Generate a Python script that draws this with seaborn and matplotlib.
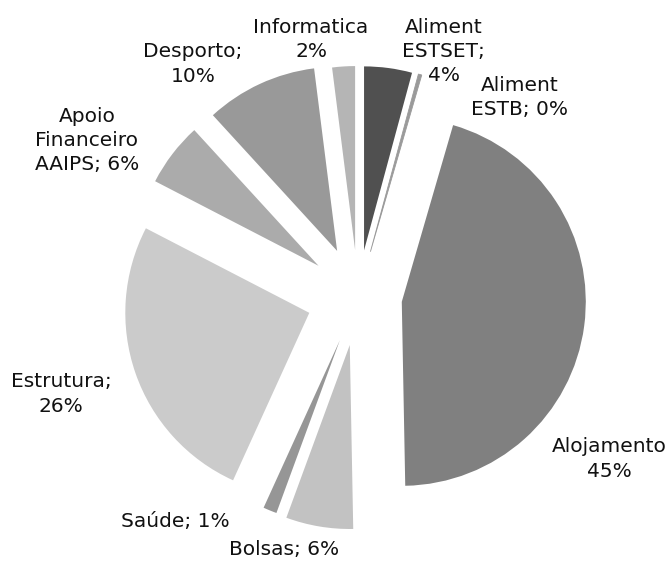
import matplotlib
matplotlib.use("Agg")
import matplotlib.pyplot as plt
import seaborn as sns

sns.set_theme(style="white")
plt.rcParams["font.family"] = ["DejaVu Sans"]

# Budget shares per category (percent), clockwise from 12 o'clock
categories = ["Aliment ESTSET", "Aliment ESTB", "Alojamento", "Bolsas", "Saúde",
              "Estrutura", "Apoio Financeiro AAIPS", "Desporto", "Informatica"]
values = [4.2, 0.3, 45.2, 5.9, 1.2, 25.8, 5.6, 9.8, 2.0]
label_templates = ["Aliment\nESTSET;\n{p}%", "Aliment\nESTB; {p}%", "Alojamento\n{p}%",
                   "Bolsas; {p}%", "Saúde; {p}%", "Estrutura;\n{p}%",
                   "Apoio\nFinanceiro\nAAIPS; {p}%", "Desporto;\n{p}%", "Informatica\n{p}%"]

# Styling
greys = ["#505050", "#9a9a9a", "#808080", "#c2c2c2", "#969696",
         "#cbcbcb", "#ababab", "#999999", "#b5b5b5"]
explode = [0.25, 0.25, 0.24, 0.27, 0.26, 0.28, 0.27, 0.27, 0.25]
label_pos = [(0.467, 1.33), (0.88, 1.08), (1.364, -0.886), (-0.402, -1.38),
             (-0.995, -1.228), (-1.614, -0.533), (-1.473, 0.846),
             (-0.897, 1.261), (-0.255, 1.393)]

W, H = 670, 567
fig = plt.figure(figsize=(W / 100, H / 100), dpi=100)
ax = fig.add_axes([0, 0, 1, 1])

wedges, _ = ax.pie(values, colors=greys, explode=explode, startangle=90,
                   counterclock=False, radius=1.0,
                   wedgeprops=dict(linewidth=0))
# keep the near-zero slice visible as a thin line
wedges[1].set_edgecolor(greys[1])
wedges[1].set_linewidth(0.6)

total = sum(values)
for tpl, v, (x, y) in zip(label_templates, values, label_pos):
    ax.text(x, y, tpl.format(p=round(v / total * 100)), ha="center", va="center",
            fontsize=14.5, linespacing=1.35, color="#111111")

cx, cy, r = 358, 296, 184
ax.set_xlim(-cx / r, (W - cx) / r)
ax.set_ylim(-(H - cy) / r, cy / r)
ax.set_aspect("auto")
ax.axis("off")

fig.savefig("out.png", dpi=100, facecolor="white")
